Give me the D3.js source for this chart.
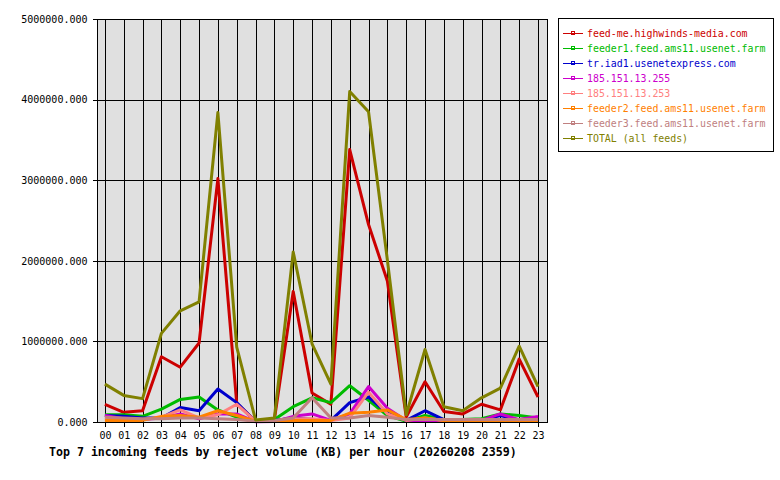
<!DOCTYPE html>
<html>
<head>
<meta charset="utf-8">
<script src="https://cdn.jsdelivr.net/npm/d3@7"></script>
<style>
  body { margin: 0; background: #fff; }
  text { font-family: "DejaVu Sans Mono", "Liberation Mono", monospace; }
</style>
</head>
<body>
<div id="chart"></div>
<script>
// hours on the x axis
const hours = ['00','01','02','03','04','05','06','07','08','09','10','11',
  '12','13','14','15','16','17','18','19','20','21','22','23'];

const yTicks = [0, 1000000, 2000000, 3000000, 4000000, 5000000];

const feedNames = [
  'feed-me.highwinds-media.com',
  'feeder1.feed.ams11.usenet.farm',
  'tr.iad1.usenetexpress.com',
  '185.151.13.255',
  '185.151.13.253',
  'feeder2.feed.ams11.usenet.farm',
  'feeder3.feed.ams11.usenet.farm',
  'TOTAL (all feeds)'
];
const feedColors = ['#cc0000', '#00bb00', '#0000cc', '#cc00cc', '#ff8080', '#ff8000', '#c08080', '#808000'];

// reject volume (KB) per hour
const highwinds = [220000, 120000, 140000, 810000, 680000, 980000, 3020000, 230000, 10000, 30000,
  1620000, 360000, 220000, 3380000, 2450000, 1750000, 60000, 500000, 130000, 100000, 220000, 150000, 780000, 310000];
const feeder1 = [90000, 90000, 70000, 160000, 280000, 310000, 150000, 60000, 5000, 30000,
  190000, 300000, 240000, 450000, 270000, 80000, 10000, 80000, 30000, 30000, 40000, 100000, 80000, 50000];
const iad1 = [80000, 70000, 50000, 50000, 180000, 140000, 410000, 240000, 5000, 20000,
  50000, 30000, 20000, 240000, 310000, 110000, 20000, 140000, 30000, 20000, 20000, 80000, 20000, 20000];
const ip255 = [80000, 40000, 30000, 50000, 100000, 40000, 100000, 100000, 3000, 5000,
  70000, 100000, 20000, 100000, 440000, 170000, 20000, 10000, 10000, 20000, 20000, 100000, 30000, 70000];
const ip253 = [40000, 40000, 30000, 60000, 150000, 50000, 90000, 220000, 10000, 10000,
  40000, 40000, 20000, 50000, 370000, 100000, 20000, 50000, 20000, 20000, 20000, 30000, 20000, 20000];
const feeder2 = [20000, 20000, 20000, 70000, 80000, 60000, 140000, 80000, 10000, 10000,
  20000, 20000, 20000, 110000, 120000, 150000, 30000, 50000, 20000, 20000, 20000, 20000, 20000, 20000];
const feeder3 = [60000, 50000, 40000, 40000, 50000, 50000, 40000, 30000, 10000, 20000,
  50000, 300000, 50000, 50000, 80000, 60000, 30000, 30000, 30000, 30000, 30000, 30000, 30000, 30000];
const total = [470000, 330000, 290000, 1100000, 1380000, 1490000, 3840000, 930000, 25000, 50000,
  2110000, 970000, 470000, 4100000, 3850000, 2010000, 90000, 900000, 190000, 140000, 300000, 420000, 940000, 440000];

const seriesValues = [highwinds, feeder1, iad1, ip255, ip253, feeder2, feeder3, total];

const width = 780, height = 480;
const plot = { left: 97, right: 548, top: 19, bottom: 422 };

const svg = d3.select('#chart')
  .append('svg')
  .attr('width', width)
  .attr('height', height);

const x = d3.scaleLinear()
  .domain([-0.42, 23.53])
  .range([plot.left, plot.right]);

const y = d3.scaleLinear()
  .domain([0, 5000000])
  .range([plot.bottom, plot.top]);

// plot background
svg.append('rect')
  .attr('x', plot.left)
  .attr('y', plot.top)
  .attr('width', plot.right - plot.left)
  .attr('height', plot.bottom - plot.top)
  .attr('fill', '#e0e0e0');

// grid
const grid = svg.append('g').attr('shape-rendering', 'crispEdges');
grid.selectAll('.vgrid')
  .data(hours)
  .enter().append('line')
  .attr('x1', (d, i) => Math.round(x(i)) + 0.5)
  .attr('x2', (d, i) => Math.round(x(i)) + 0.5)
  .attr('y1', plot.top)
  .attr('y2', plot.bottom)
  .attr('stroke', '#000');
grid.selectAll('.hgrid')
  .data(yTicks)
  .enter().append('line')
  .attr('x1', plot.left)
  .attr('x2', plot.right)
  .attr('y1', (d) => Math.round(y(d)) + 0.5)
  .attr('y2', (d) => Math.round(y(d)) + 0.5)
  .attr('stroke', '#000');

// y axis
const yAxis = d3.axisLeft(y)
  .tickValues(yTicks)
  .tickSize(4)
  .tickFormat((d) => d3.format('.3f')(d));
svg.append('g')
  .attr('transform', 'translate(' + (plot.left - 0.5) + ',0)')
  .call(yAxis)
  .call((g) => g.select('.domain').remove())
  .call((g) => g.selectAll('line').attr('shape-rendering', 'crispEdges'))
  .call((g) => g.selectAll('text')
    .attr('font-family', '"DejaVu Sans Mono", monospace')
    .attr('font-size', '10px')
    .attr('fill', '#000')
    .attr('x', -9));

// x axis
const xAxis = d3.axisBottom(x)
  .tickValues(d3.range(hours.length))
  .tickSize(4)
  .tickFormat((d) => hours[d]);
svg.append('g')
  .attr('transform', 'translate(0,' + (plot.bottom + 0.5) + ')')
  .call(xAxis)
  .call((g) => g.select('.domain').remove())
  .call((g) => g.selectAll('line').attr('shape-rendering', 'crispEdges'))
  .call((g) => g.selectAll('text')
    .attr('font-family', '"DejaVu Sans Mono", monospace')
    .attr('font-size', '10px')
    .attr('fill', '#000')
    .attr('y', 9));

// series lines
const line = d3.line()
  .x((d, i) => x(i))
  .y((d) => y(d));

svg.append('g')
  .selectAll('path')
  .data(seriesValues)
  .enter().append('path')
  .attr('d', (d) => line(d))
  .attr('fill', 'none')
  .attr('stroke', (d, i) => feedColors[i])
  .attr('stroke-width', 3)
  .attr('stroke-linejoin', 'round');

// frame
svg.append('rect')
  .attr('x', plot.left + 0.5)
  .attr('y', plot.top + 0.5)
  .attr('width', plot.right - plot.left - 1)
  .attr('height', plot.bottom - plot.top)
  .attr('fill', 'none')
  .attr('stroke', '#000')
  .attr('shape-rendering', 'crispEdges');

// legend
const legend = svg.append('g');
legend.append('rect')
  .attr('x', 558.5)
  .attr('y', 18.5)
  .attr('width', 215)
  .attr('height', 133)
  .attr('fill', '#fff')
  .attr('stroke', '#000')
  .attr('shape-rendering', 'crispEdges');

const items = legend.selectAll('.item')
  .data(feedNames)
  .enter().append('g')
  .attr('transform', (d, i) => 'translate(0,' + (33 + i * 15) + ')');
items.append('line')
  .attr('x1', 563).attr('x2', 583)
  .attr('y1', 0.5).attr('y2', 0.5)
  .attr('stroke', (d, i) => feedColors[i])
  .attr('shape-rendering', 'crispEdges');
items.append('rect')
  .attr('x', 571.5).attr('y', -1.5)
  .attr('width', 3).attr('height', 3)
  .attr('fill', 'none')
  .attr('stroke', (d, i) => feedColors[i])
  .attr('shape-rendering', 'crispEdges');
items.append('text')
  .attr('x', 587)
  .attr('y', 4)
  .attr('font-size', '9.9px')
  .attr('fill', (d, i) => feedColors[i])
  .text((d) => d);

// title
svg.append('text')
  .attr('x', 49)
  .attr('y', 456)
  .attr('font-size', '11.6px')
  .attr('font-weight', 'bold')
  .attr('fill', '#000')
  .text('Top 7 incoming feeds by reject volume (KB) per hour (20260208 2359)');
</script>
</body>
</html>
